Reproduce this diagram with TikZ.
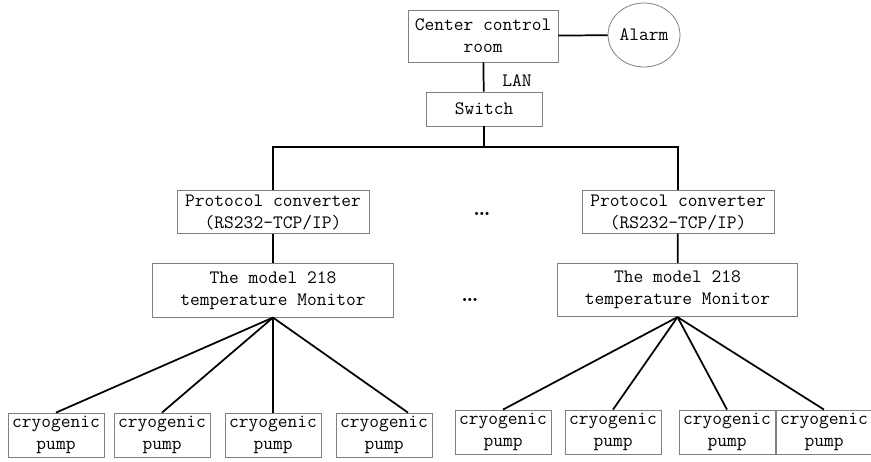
\documentclass[tikz,border=0pt]{standalone}
\usetikzlibrary{shapes.geometric}

\begin{document}
\begin{tikzpicture}[x=0.75pt, y=-0.75pt,
  box/.style={draw=gray, line width=0.6pt, align=center, inner sep=1pt,
    font=\ttfamily\fontsize{14.2}{16.5}\selectfont},
  pump/.style={box, minimum width=72pt, minimum height=33pt},
  conv/.style={box, minimum width=144pt, minimum height=32pt},
  mon/.style={box, minimum width=180.5pt, minimum height=40pt},
  wire/.style={line width=1.3pt}]
  \useasboundingbox (0,0) rectangle (871,461);

  % Top: control room, alarm and switch
  \node[box, minimum width=112.5pt, minimum height=39pt] (ccr) at (483,36) {Center control\\room};
  \node[box, ellipse, minimum width=54pt, minimum height=48pt, inner sep=0pt] (alarm) at (644,35) {Alarm};
  \node[box, minimum width=87pt, minimum height=25.5pt] (sw) at (484,109) {Switch};
  \node[font=\ttfamily\fontsize{14.2}{16.5}\selectfont] (lan) at (517,81) {LAN};
  \coordinate (bus) at (484,147);
  \draw[wire] (ccr) -- (alarm);
  \draw[wire] (ccr) -- (sw);
  \draw[wire] (sw) -- (bus);

  % Left branch
  \node[conv] (pc1) at (273,212) {Protocol converter\\(RS232-TCP/IP)};
  \node[mon] (mon1) at (273,290.5) {The model 218\\temperature Monitor};
  \node[pump] (p1) at (56,435) {cryogenic\\pump};
  \node[pump] (p2) at (162,435) {cryogenic\\pump};
  \node[pump] (p3) at (273,435) {cryogenic\\pump};
  \node[pump] (p4) at (384,435) {cryogenic\\pump};
  \draw[wire] (pc1) |- (bus);
  \draw[wire] (pc1) -- (mon1);
  \draw[wire] (mon1.south) -- (p1.north);
  \draw[wire] (mon1.south) -- (p2.north);
  \draw[wire] (mon1.south) -- (p3.north);
  \draw[wire] (mon1.south) -- ([xshift=18pt]p4.north);

  % Right branch
  \node[conv] (pc2) at (678,212) {Protocol converter\\(RS232-TCP/IP)};
  \node[mon] (mon2) at (677.5,290) {The model 218\\temperature Monitor};
  \node[pump] (p5) at (503,432) {cryogenic\\pump};
  \node[pump] (p6) at (613,432) {cryogenic\\pump};
  \node[pump] (p7) at (727,432) {cryogenic\\pump};
  \node[pump] (p8) at (824,432) {cryogenic\\pump};
  \draw[wire] (bus) -| (pc2);
  \draw[wire] (pc2) -- (mon2);
  \draw[wire] (mon2.south) -- (p5.north);
  \draw[wire] (mon2.south) -- (p6.north);
  \draw[wire] (mon2.south) -- (p7.north);
  \draw[wire] (mon2.south) -- (p8.north);

  % dots between the branches
  \node[font=\fontsize{16}{18}\selectfont\bfseries] (dots1) at (482,214) {\ldots};
  \node[font=\fontsize{16}{18}\selectfont\bfseries] (dots2) at (470,300) {\ldots};
\end{tikzpicture}
\end{document}
